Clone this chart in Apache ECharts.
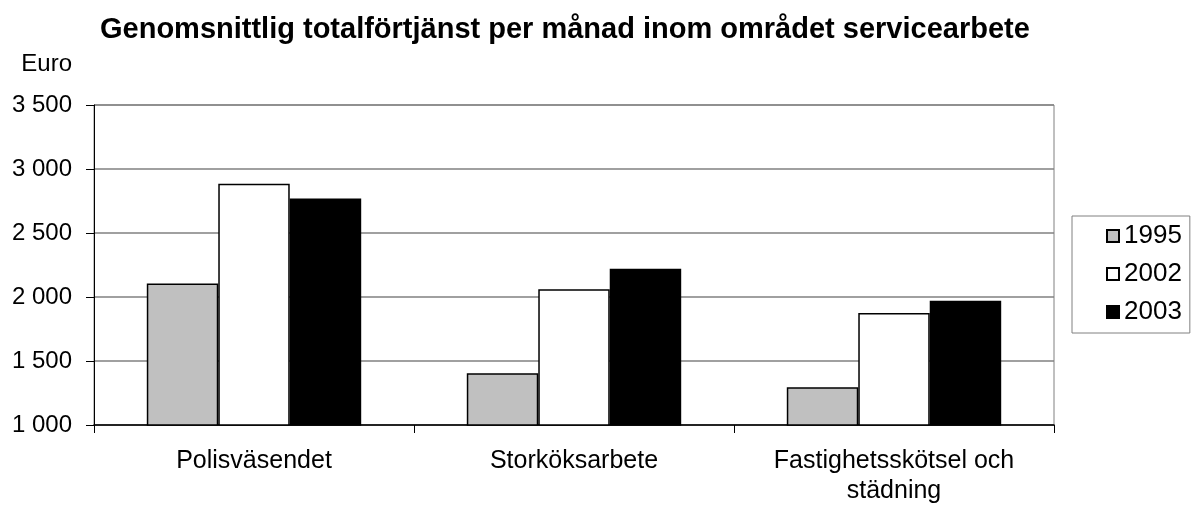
<!DOCTYPE html>
<html>
<head>
<meta charset="utf-8">
<script src="https://cdn.jsdelivr.net/npm/echarts@6/dist/echarts.min.js"></script>
<style>
  html, body { margin: 0; padding: 0; background: #fff; }
  #chart { width: 1198px; height: 506px; }
</style>
</head>
<body>
<div id="chart"></div>
<script>
const FONT = '"Liberation Sans", Arial, sans-serif';

const categories = ['Polisväsendet', 'Storköksarbete', 'Fastighetsskötsel och\nstädning'];
const years = ['1995', '2002', '2003'];
const values1995 = [2105, 1405, 1295];
const values2002 = [2885, 2060, 1875];
const values2003 = [2770, 2220, 1970];
const yTickLabels = { 1000: '1 000', 1500: '1 500', 2000: '2 000', 2500: '2 500', 3000: '3 000', 3500: '3 500' };

const fills = ['#c0c0c0', '#ffffff', '#000000'];
const seriesValues = [values1995, values2002, values2003];

const chart = echarts.init(document.getElementById('chart'), null, { renderer: 'canvas' });

const series = years.map((y, i) => ({
  type: 'bar',
  name: y,
  data: seriesValues[i],
  barGap: '0%',
  barCategoryGap: '33%',
  itemStyle: { color: fills[i], borderColor: '#000', borderWidth: 1.5 },
  emphasis: { disabled: true }
}));

chart.setOption({
  animation: false,
  textStyle: { fontFamily: FONT },
  title: {
    text: 'Genomsnittlig totalförtjänst per månad inom området servicearbete',
    left: 95,
    top: 10,
    padding: [5, 5, 5, 5],
    textStyle: { fontFamily: FONT, fontSize: 29, fontWeight: 'bold', color: '#000' }
  },
  legend: {
    orient: 'vertical',
    left: 1072,
    top: 216,
    padding: [7, 8, 8, 34],
    itemGap: 12,
    itemWidth: 12,
    itemHeight: 12,
    icon: 'rect',
    borderColor: '#808080',
    borderWidth: 1,
    textStyle: { fontFamily: FONT, fontSize: 26, color: '#000' },
    data: years
  },
  grid: { left: 94, right: 144, top: 105, bottom: 81, show: true, borderColor: '#808080', borderWidth: 1 },
  xAxis: {
    type: 'category',
    data: categories,
    axisLine: { lineStyle: { color: '#000', width: 1.5 } },
    axisTick: { show: true, length: 8, lineStyle: { color: '#000' } },
    axisLabel: { interval: 0, margin: 21, fontSize: 25, lineHeight: 30, color: '#000', fontFamily: FONT }
  },
  yAxis: {
    type: 'value',
    min: 1000,
    max: 3500,
    interval: 500,
    name: 'Euro',
    nameLocation: 'end',
    nameGap: 29,
    nameTextStyle: { fontFamily: FONT, fontSize: 24, color: '#000', align: 'right', padding: [0, 22, 0, 0] },
    axisLine: { show: true, lineStyle: { color: '#000', width: 1 } },
    axisTick: { show: true, length: 8, lineStyle: { color: '#000' } },
    splitLine: { lineStyle: { color: '#808080', width: 1.5 } },
    axisLabel: {
      margin: 22,
      fontSize: 24,
      color: '#000',
      fontFamily: FONT,
      formatter: v => yTickLabels[v] || String(v)
    }
  },
  series: series
});
</script>
</body>
</html>
